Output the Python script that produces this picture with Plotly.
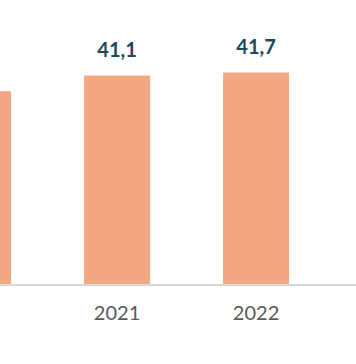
import plotly.graph_objects as go

years = ["2020", "2021", "2022"]
values = [38.0, 41.1, 41.7]
labels = ["38,0", "41,1", "41,7"]

bar_color = "#F2A983"
label_color = "#1B4A58"
tick_color = "#595959"

fig = go.Figure()
fig.add_trace(go.Bar(
    x=years, y=values, marker=dict(color=bar_color, line=dict(width=0)),
    hoverinfo="skip", showlegend=False,
))
fig.add_trace(go.Scatter(
    x=years, y=values, mode="markers+text", text=labels,
    textposition="top center",
    marker=dict(size=20, opacity=0),
    textfont=dict(family="Lato", size=20, color=label_color, weight="bold"),
    hoverinfo="skip", showlegend=False,
))

fig.update_layout(
    width=356, height=364,
    margin=dict(l=0, r=0, t=4, b=80),
    paper_bgcolor="white", plot_bgcolor="white",
    bargap=0.525,
    font=dict(family="Lato"),
    xaxis=dict(
        type="category", range=[0.158, 2.719],
        showline=True, linecolor="#D9D9D9", linewidth=2,
        showgrid=False, zeroline=False,
        ticks="outside", ticklen=10, tickcolor="rgba(0,0,0,0)",
        tickfont=dict(family="Lato", size=20, color=tick_color),
    ),
    yaxis=dict(range=[0, 55.2], visible=False, showgrid=False, zeroline=False),
)

fig.write_html("out.html", config={"displayModeBar": False},
               post_script="document.body.style.margin='0';document.body.style.overflow='hidden';")
